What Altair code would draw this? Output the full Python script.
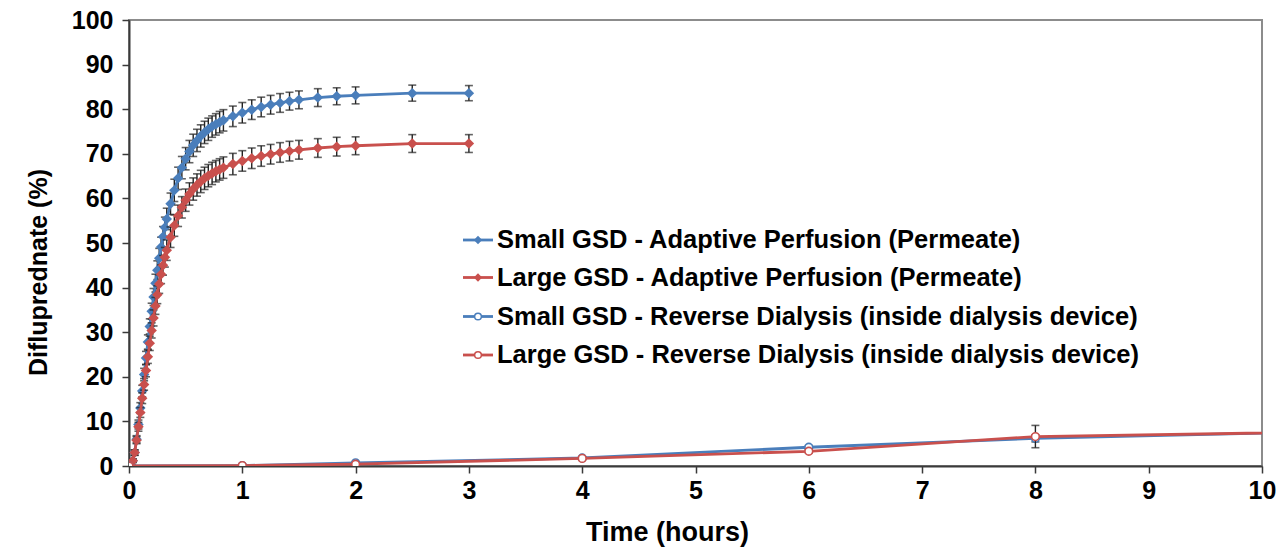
import altair as alt
import pandas as pd

# Adaptive perfusion (permeate) sampling times, minutes
ap_minutes = list(range(0, 21)) + list(range(22, 51, 2)) + list(range(55, 91, 5)) + [100, 110, 120, 150, 180]

small_ap = [0, 0.3, 1.2, 3.0, 6.0, 9.3, 13.0, 16.8, 20.5, 24.2, 27.8, 31.3, 34.7, 37.9, 41.0, 43.9, 46.6, 49.1, 51.4, 53.5, 55.4,
            58.8, 61.8, 64.5, 66.9, 68.9, 70.5, 71.9, 73.0, 74.0, 74.8, 75.5, 76.1, 76.6, 77.1, 77.5,
            78.4, 79.2, 79.9, 80.5, 81.0, 81.4, 81.8, 82.1,
            82.6, 82.9, 83.1, 83.6, 83.6]
small_ap_sd = [0, 0.2, 0.4, 0.6, 0.8, 1.0, 1.2, 1.3, 1.4, 1.5, 1.6, 1.7, 1.8, 1.9, 2.0, 2.1, 2.2, 2.2, 2.3, 2.3, 2.4,
               2.4, 2.5, 2.5, 2.5, 2.5, 2.5, 2.5, 2.5, 2.5, 2.5, 2.5, 2.4, 2.4, 2.4, 2.4,
               2.3, 2.3, 2.2, 2.2, 2.1, 2.1, 2.0, 2.0,
               2.0, 1.9, 1.9, 1.8, 1.7]

large_ap = [0, 0.3, 1.2, 3.0, 5.8, 8.8, 12.0, 15.2, 18.3, 21.4, 24.5, 27.5, 30.4, 33.2, 35.9, 38.4, 40.8, 43.0, 45.0, 46.8, 48.4,
            51.3, 53.9, 56.1, 58.0, 59.6, 61.0, 62.1, 63.0, 63.8, 64.5, 65.1, 65.6, 66.1, 66.5, 66.9,
            67.7, 68.4, 69.0, 69.5, 69.9, 70.3, 70.6, 70.9,
            71.3, 71.6, 71.8, 72.3, 72.3]
large_ap_sd = [0, 0.2, 0.4, 0.6, 0.8, 1.0, 1.1, 1.2, 1.3, 1.4, 1.5, 1.6, 1.7, 1.8, 1.9, 2.0, 2.1, 2.1, 2.2, 2.2, 2.3,
               2.3, 2.4, 2.4, 2.4, 2.5, 2.5, 2.5, 2.5, 2.5, 2.5, 2.5, 2.5, 2.4, 2.4, 2.4,
               2.4, 2.3, 2.3, 2.3, 2.2, 2.2, 2.2, 2.1,
               2.1, 2.1, 2.0, 2.0, 2.0]

# Reverse dialysis (inside dialysis device), hours; the last sample lies past the 10 h axis end
rd_hours = [0, 1, 2, 4, 6, 8, 24]
small_rd = [0, 0.1, 0.7, 1.8, 4.2, 6.2, 15.5]
small_rd_sd = [0, 0.1, 0.2, 0.3, 0.4, 0.8, 1.0]
large_rd = [0, 0.1, 0.4, 1.7, 3.3, 6.6, 13.0]
large_rd_sd = [0, 0.1, 0.2, 0.3, 0.4, 2.5, 1.0]

series_labels = [
    "Small GSD - Adaptive Perfusion (Permeate)",
    "Large GSD - Adaptive Perfusion (Permeate)",
    "Small GSD - Reverse Dialysis (inside dialysis device)",
    "Large GSD - Reverse Dialysis (inside dialysis device)",
]
BLUE = "#4a7ebb"
RED = "#c9504d"
FONT = "Liberation Sans"


def frame(times_h, vals, sds):
    return pd.DataFrame({
        "t": times_h,
        "v": vals,
        "lo": [a - b for a, b in zip(vals, sds)],
        "hi": [a + b for a, b in zip(vals, sds)],
    })


ap_hours = [m / 60 for m in ap_minutes]
frames = [
    (frame(ap_hours, small_ap, small_ap_sd), BLUE, "diamond"),
    (frame(ap_hours, large_ap, large_ap_sd), RED, "diamond"),
    (frame(rd_hours, small_rd, small_rd_sd), BLUE, "circle"),
    (frame(rd_hours, large_rd, large_rd_sd), RED, "circle"),
]

x_scale = alt.Scale(domain=[0, 10], nice=False)
y_scale = alt.Scale(domain=[0, 100], nice=False)
x_axis = alt.Axis(
    values=list(range(0, 11)), format="d", title="Time (hours)", labelFlush=False,
    titleX=538, titleY=74, titleBaseline="alphabetic", titleFontSize=27,
)
y_axis = alt.Axis(
    values=list(range(0, 101, 10)), format="d", title="Difluprednate (%)", labelFlush=False,
    titleAngle=270, titleX=-91, titleY=252, titleAlign="center", titleBaseline="middle",
    labelPadding=9,
)


def X(field="t"):
    return alt.X(f"{field}:Q", scale=x_scale, axis=x_axis)


def Y(field="v"):
    return alt.Y(f"{field}:Q", scale=y_scale, axis=y_axis)


ERR = "#222222"
layers = []
for df, color, shape in frames:
    base = alt.Chart(df)
    bars = base.mark_rule(color=ERR, strokeWidth=1.4, clip=True).encode(x=X(), y=Y("lo"), y2="hi")
    cap_lo = base.mark_tick(color=ERR, orient="horizontal", size=8, thickness=1.6, clip=True).encode(x=X(), y=Y("lo"))
    cap_hi = base.mark_tick(color=ERR, orient="horizontal", size=8, thickness=1.6, clip=True).encode(x=X(), y=Y("hi"))
    line = base.mark_line(color=color, strokeWidth=2.8, clip=True).encode(x=X(), y=Y())
    if shape == "diamond":
        pts = base.mark_point(shape="diamond", filled=True, color=color, size=110, opacity=1, clip=True).encode(x=X(), y=Y())
    else:
        pts = base.mark_point(shape="circle", filled=False, fill="white", fillOpacity=1, stroke=color,
                              strokeWidth=1.6, size=60, opacity=1, clip=True).encode(x=X(), y=Y())
    layers += [bars, cap_lo, cap_hi, line, pts]

# legend drawn inside the plot area
one = pd.DataFrame({"k": [0]})
legend_rows = [220, 257.5, 296.5, 335]
for label, (df, color, shape), ly in zip(series_labels, frames, legend_rows):
    b = alt.Chart(one)
    layers.append(b.mark_rule(color=color, strokeWidth=2.8).encode(
        x=alt.value(334), x2=alt.value(364), y=alt.value(ly)))
    if shape == "diamond":
        layers.append(b.mark_point(shape="diamond", filled=True, color=color, size=70, opacity=1).encode(
            x=alt.value(349), y=alt.value(ly)))
    else:
        layers.append(b.mark_point(shape="circle", filled=False, fill="white", fillOpacity=1, stroke=color,
                                   strokeWidth=1.5, size=45, opacity=1).encode(x=alt.value(349), y=alt.value(ly)))
    layers.append(b.mark_text(align="left", baseline="middle", font=FONT, fontWeight="bold", fontSize=25.5,
                              color="black").encode(x=alt.value(368), y=alt.value(ly), text=alt.value(label)))

chart = alt.layer(*layers).properties(
    width=1133, height=446,
    autosize=alt.AutoSizeParams(type="none"),
    padding={"left": 129, "top": 20, "right": 21, "bottom": 83},
    background="white",
).configure_view(
    stroke="#8c8c8c", strokeWidth=2,
).configure_axis(
    grid=False,
    labelFont=FONT, labelFontWeight="bold", labelFontSize=25, labelColor="black",
    titleFont=FONT, titleFontWeight="bold", titleFontSize=25, titleColor="black",
    domainColor="#3a3a3a", domainWidth=2, tickColor="#3a3a3a", tickWidth=1.5, tickSize=7,
    labelPadding=5,
)

chart.save("out.html", embed_options={"renderer": "svg", "actions": False})
